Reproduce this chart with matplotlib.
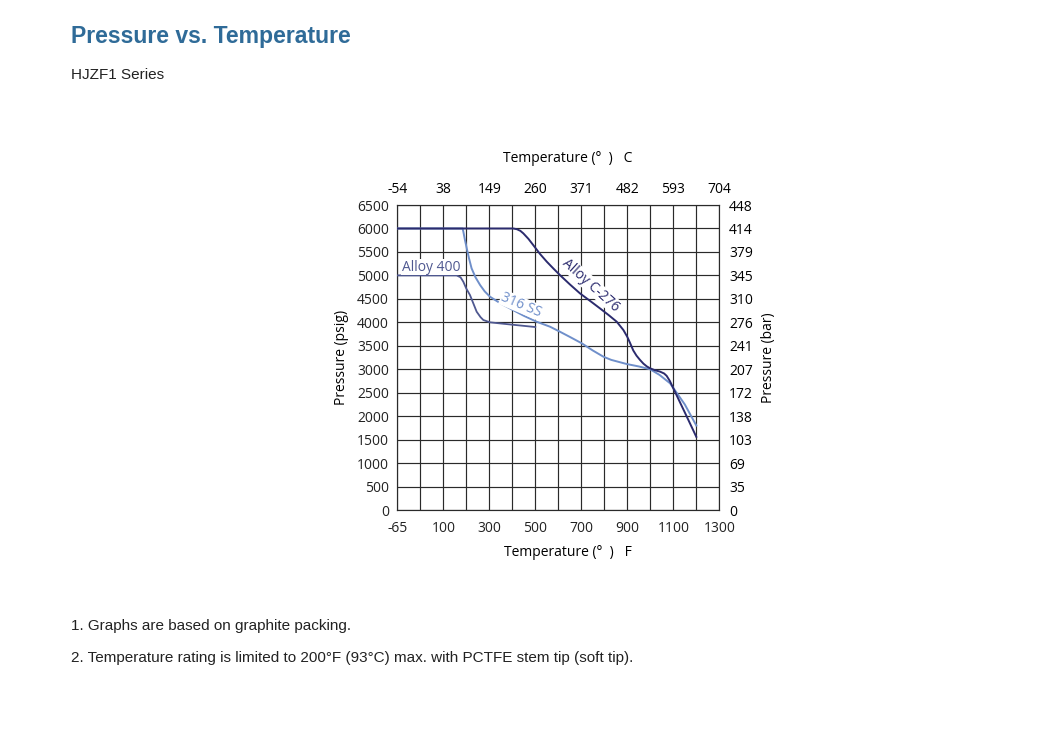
import matplotlib
matplotlib.use("Agg")
import matplotlib.pyplot as plt

# Chart x-positions are on the (non-linear-labelled) Fahrenheit grid
x_ticks = [-100, 100, 300, 500, 700, 900, 1100, 1300]
x_labels_F = ["-65", "100", "300", "500", "700", "900", "1100", "1300"]
x_labels_C = ["-54", "38", "149", "260", "371", "482", "593", "704"]
x_grid = list(range(-100, 1301, 100))

y_ticks = [0, 500, 1000, 1500, 2000, 2500, 3000, 3500, 4000, 4500, 5000, 5500, 6000, 6500]
y_labels_bar = ["0", "35", "69", "103", "138", "172", "207", "241", "276", "310", "345", "379", "414", "448"]

ss316_F = [-100, 184, 187, 194, 202, 212, 223, 240, 260, 280, 303, 350, 400, 450, 506, 564, 607, 650, 702, 750, 796, 830, 868, 897, 950, 999, 1040, 1086, 1150, 1200]
ss316_psi = [6000, 6000, 5937, 5760, 5577, 5360, 5151, 4960, 4795, 4660, 4546, 4400, 4270, 4140, 4013, 3907, 3800, 3690, 3553, 3400, 3268, 3200, 3150, 3112, 3060, 3000, 2880, 2700, 2250, 1800]

a400_F = [-100, 158, 175, 187, 200, 216, 245, 262, 274, 303, 400, 500]
a400_psi = [5000, 5000, 4960, 4866, 4720, 4582, 4227, 4110, 4050, 4000, 3950, 3900]

c276_F = [-100, 404, 420, 435, 448, 470, 491, 520, 550, 580, 607, 650, 694, 740, 781, 820, 854, 883, 900, 912, 926, 940, 955, 970, 985, 999, 1020, 1042, 1060, 1071, 1085, 1100, 1150, 1200]
c276_psi = [6000, 6000, 5985, 5950, 5896, 5780, 5647, 5460, 5292, 5140, 5008, 4810, 4618, 4450, 4298, 4150, 4013, 3836, 3690, 3560, 3400, 3290, 3200, 3120, 3060, 3020, 2980, 2950, 2910, 2860, 2750, 2594, 2080, 1560]

col_ss = "#6f8fca"
col_400 = "#4f5890"
col_c276 = "#2b2b6e"

fig = plt.figure(figsize=(10.6, 7.41), dpi=100)
fig.patch.set_facecolor("white")

ax = fig.add_axes([0.3748, 0.3117, 0.3038, 0.4116])
ax.set_xlim(-100, 1300)
ax.set_ylim(0, 6500)

for g in x_grid:
    ax.axvline(g, color="#2a2a2a", lw=0.85, zorder=1)
for g in y_ticks:
    ax.axhline(g, color="#2a2a2a", lw=0.85, zorder=1)

ax.plot(ss316_F, ss316_psi, color=col_ss, lw=1.4, zorder=3, solid_joinstyle="round")
ax.plot(a400_F, a400_psi, color=col_400, lw=1.3, zorder=3, solid_joinstyle="round")
ax.plot(c276_F, c276_psi, color=col_c276, lw=1.4, zorder=3, solid_joinstyle="round")

tf = "Open Sans"
ax.text(-80, 5179, "Alloy 400", color=col_400, fontsize=10, family=tf, va="center", ha="left",
        zorder=4, bbox=dict(facecolor="white", edgecolor="none", pad=0.5))
ax.text(438, 4369, "316 SS", color=col_ss, fontsize=10, family=tf, va="center", ha="center",
        rotation=-23, rotation_mode="anchor", zorder=4,
        bbox=dict(facecolor="white", edgecolor="none", pad=0.3))
ax.text(742, 4795, "Alloy C-276", color=col_c276, fontsize=10, family=tf, va="center", ha="center",
        rotation=-42, rotation_mode="anchor", zorder=4,
        bbox=dict(facecolor="white", edgecolor="none", pad=0.3))

for s in ax.spines.values():
    s.set_color("#2a2a2a")
    s.set_linewidth(0.85)

ax.set_xticks(x_ticks)
ax.set_xticklabels(x_labels_F, family=tf, fontsize=10)
ax.set_yticks(y_ticks)
ax.set_yticklabels([str(v) for v in y_ticks], family=tf, fontsize=10)
ax.tick_params(axis="both", length=0, pad=6, colors="#222222")
ax.tick_params(axis="x", pad=8)
ax.set_xlabel("Temperature (°  )   F", family=tf, fontsize=10)
ax.xaxis.set_label_coords(0.53, -0.115)
ax.set_ylabel("Pressure (psig)", family=tf, fontsize=10, labelpad=6)

ax2 = ax.twinx()
ax2.set_ylim(0, 6500)
ax2.set_yticks(y_ticks)
ax2.set_yticklabels(y_labels_bar, family=tf, fontsize=10)
ax2.tick_params(axis="y", length=0, pad=7)
ax2.set_ylabel("Pressure (bar)", family=tf, fontsize=10, labelpad=6)
for s in ax2.spines.values():
    s.set_visible(False)

ax3 = ax.twiny()
ax3.set_xlim(-100, 1300)
ax3.set_xticks(x_ticks)
ax3.set_xticklabels(x_labels_C, family=tf, fontsize=10)
ax3.tick_params(axis="x", length=0, pad=6)
ax3.set_xlabel("Temperature (°  )   C", family=tf, fontsize=10)
ax3.xaxis.set_label_coords(0.53, 1.141)
for s in ax3.spines.values():
    s.set_visible(False)

fig.text(71 / 1060, 1 - 36 / 741, "Pressure vs. Temperature", fontsize=16.6, fontweight="bold",
         color="#2f6b98", family="Liberation Sans", va="center", ha="left")
fig.text(71 / 1060, 1 - 75 / 741, "HJZF1 Series", fontsize=11, color="#222222",
         family="Liberation Sans", va="center", ha="left")
fig.text(71 / 1060, 1 - 626 / 741, "1. Graphs are based on graphite packing.", fontsize=11,
         color="#222222", family="Liberation Sans", va="center", ha="left")
fig.text(71 / 1060, 1 - 658 / 741,
         "2. Temperature rating is limited to 200°F (93°C) max. with PCTFE stem tip (soft tip).",
         fontsize=11, color="#222222", family="Liberation Sans", va="center", ha="left")

fig.savefig("out.png", dpi=100, facecolor="white")
